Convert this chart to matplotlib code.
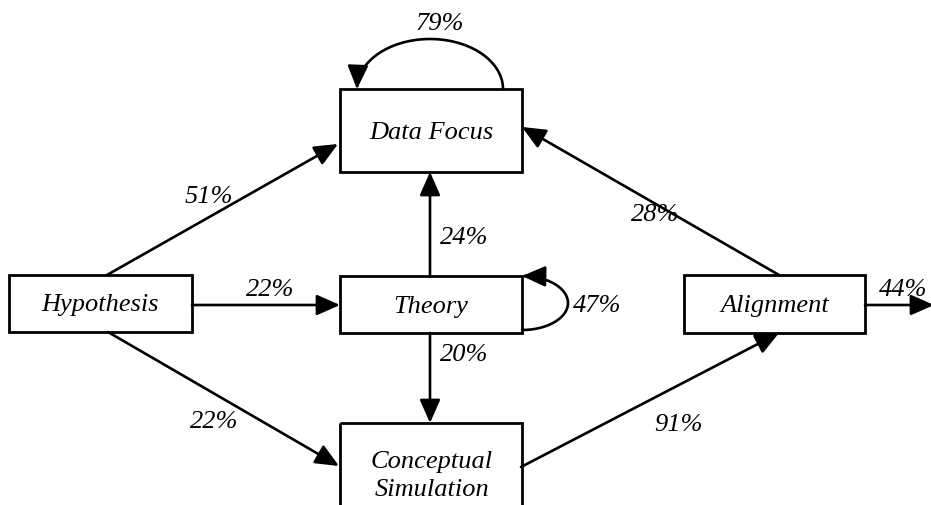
import numpy as np
import matplotlib
matplotlib.use('Agg')
import matplotlib.pyplot as plt
from matplotlib.patches import Rectangle, FancyArrowPatch
from matplotlib.path import Path

# node names
nodes = ['Data Focus', 'Hypothesis', 'Theory', 'Alignment', 'Conceptual\nSimulation']

# transitions (from, to, percent)
edge_from = ['Hypothesis', 'Hypothesis', 'Hypothesis', 'Theory', 'Theory',
             'Conceptual\nSimulation', 'Alignment', 'Alignment']
edge_to = ['Data Focus', 'Theory', 'Conceptual\nSimulation', 'Data Focus',
           'Conceptual\nSimulation', 'Alignment', 'Data Focus', 'exit']
edge_pct = [51, 22, 22, 24, 20, 91, 28, 44]

# self loops
loop_nodes = ['Data Focus', 'Theory']
loop_pct = [79, 47]

# layout in pixel coords (x0, y0, x1, y1), y downwards
boxes = {
    'Data Focus': (340, 90, 522, 173),
    'Hypothesis': (9, 276, 192, 333),
    'Theory': (340, 277, 522, 334),
    'Alignment': (684, 276, 865, 334),
    'Conceptual\nSimulation': (340, 424, 522, 540),
}
# edge start/end points and label positions
edge_geom = [
    ((107, 276), (338, 145), (209, 197)),
    ((192, 306), (340, 306), (270, 290)),
    ((108, 333), (339, 467), (214, 422)),
    ((430, 277), (430, 173), (464, 238)),
    ((430, 334), (430, 424), (464, 355)),
    ((521, 468), (779, 334), (678, 425)),
    ((779, 276), (522, 128), (655, 215)),
    ((865, 306), (934, 306), (903, 290)),
]

font = dict(family='Liberation Serif', style='italic', fontsize=19, color='black')
astyle = '-|>,head_length=0.95,head_width=0.42'

fig = plt.figure(figsize=(9.31, 5.06), dpi=100)
ax = fig.add_axes([0, 0, 1, 1])
ax.set_xlim(0, 931)
ax.set_ylim(506, 0)
ax.axis('off')

for name in nodes:
    x0, y0, x1, y1 = boxes[name]
    ax.add_patch(Rectangle((x0, y0), x1 - x0, y1 - y0, fill=False,
                           edgecolor='black', lw=2))
    cx = (x0 + x1) / 2
    if '\n' in name:
        top, bot = name.split('\n')
        ax.text(cx + 1, 462, top, ha='center', va='center', **font)
        ax.text(cx + 1, 490, bot, ha='center', va='center', **font)
    else:
        ax.text(cx, (y0 + y1) / 2 + 1, name, ha='center', va='center', **font)

for (p0, p1, lp), pct in zip(edge_geom, edge_pct):
    ax.add_patch(FancyArrowPatch(p0, p1, arrowstyle=astyle, mutation_scale=15,
                                 color='black', lw=1.9, shrinkA=0, shrinkB=0))
    ax.text(lp[0], lp[1], f'{pct}%', ha='center', va='center', **font)

# Data Focus self loop: half ellipse above the box
t = np.linspace(0, np.pi, 60)
pts = np.column_stack([430 + 73 * np.cos(t), 90 - 50 * np.sin(t)])
pts[-1] = (357, 90)
ax.add_patch(FancyArrowPatch(path=Path(pts), arrowstyle=astyle, mutation_scale=15,
                             color='black', lw=1.9, shrinkA=0, shrinkB=0))
ax.text(440, 24, f'{loop_pct[0]}%', ha='center', va='center', **font)

# Theory self loop: from bottom-right corner round to top-right corner
t = np.linspace(np.pi / 2, -np.pi / 2, 60)
pts = np.column_stack([522 + 46 * np.cos(t), 304 + 27 * np.sin(t)])
ax.add_patch(FancyArrowPatch(path=Path(pts), arrowstyle=astyle, mutation_scale=15,
                             color='black', lw=1.9, shrinkA=0, shrinkB=0))
ax.text(597, 306, f'{loop_pct[1]}%', ha='center', va='center', **font)

fig.savefig('out.png', dpi=100, facecolor='white')
